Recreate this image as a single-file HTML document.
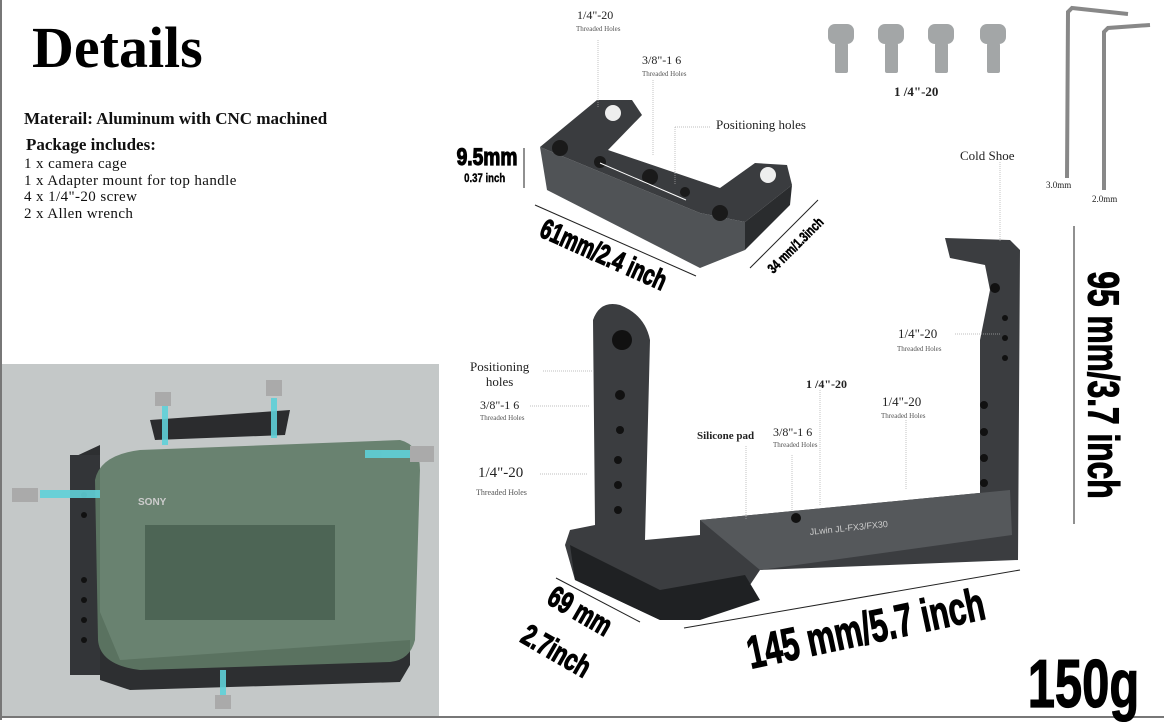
<!DOCTYPE html>
<html><head><meta charset="utf-8"><style>
body{margin:0;width:1164px;height:720px;background:#fff;position:relative;overflow:hidden;font-family:"Liberation Serif",serif}
.a{position:absolute;white-space:nowrap}
.s{font-family:"Liberation Serif",serif;font-size:13px;color:#222}
.t{font-family:"Liberation Serif",serif;font-size:7px;color:#555}
.d{position:absolute;white-space:nowrap;width:0;height:0;display:flex;align-items:center;justify-content:center}
.d span{font-family:"Liberation Sans",sans-serif;font-weight:bold;color:#000;-webkit-text-stroke:1.2px #000;display:block;flex:none}
</style></head><body>
<div style="position:absolute;left:0;top:0;width:2px;height:720px;background:#777"></div>
<div style="position:absolute;left:0;top:716px;width:1164px;height:2px;background:#777"></div>
<div class="a" style="left:32px;top:14px;font-size:58px;font-weight:bold;">Details</div>
<div class="a" style="left:24px;top:109px;font-size:17px;font-weight:bold;line-height:20px;color:#111">Materail: Aluminum with CNC machined</div>
<div class="a" style="left:26px;top:135px;font-size:17px;font-weight:bold;color:#111">Package includes:</div>
<div class="a" style="left:24px;top:156px;font-size:15px;line-height:16.5px;letter-spacing:.4px;color:#111">1 x camera cage<br>1 x Adapter mount for top handle<br>4 x 1/4"-20 screw<br>2 x Allen wrench</div>

<svg style="position:absolute;left:0;top:0" width="1164" height="720">
<rect x="2" y="364" width="437" height="352" fill="#c4c8c8"/>
<!-- camera & cage left -->
<path d="M72 458 L100 445 L100 680 L130 690 L400 682 L410 665 L410 640 L120 660 L95 600 Z" fill="#2d2f31"/>
<rect x="70" y="455" width="30" height="220" fill="#333538"/>
<g fill="#111"><circle cx="84" cy="495" r="3"/><circle cx="84" cy="515" r="3"/><circle cx="84" cy="580" r="3"/><circle cx="84" cy="600" r="3"/><circle cx="84" cy="620" r="3"/><circle cx="84" cy="640" r="3"/></g>
<path d="M95 480 Q100 455 140 450 L400 440 Q420 445 420 470 L415 640 Q410 660 390 662 L140 670 Q100 665 98 640 Z" fill="#5f7a66" opacity=".9"/>
<rect x="145" y="525" width="190" height="95" fill="#4d6555"/>
<path d="M150 420 L290 410 L285 435 L155 440 Z" fill="#2b2c2e"/>
<g fill="#5fd0d8" opacity=".9"><rect x="162" y="405" width="6" height="40"/><rect x="271" y="398" width="6" height="40"/><rect x="40" y="490" width="60" height="8"/><rect x="365" y="450" width="52" height="8"/><rect x="220" y="670" width="6" height="28"/></g>
<g fill="#aaa"><rect x="155" y="392" width="16" height="14"/><rect x="266" y="380" width="16" height="16"/><rect x="12" y="488" width="26" height="14"/><rect x="410" y="446" width="24" height="16"/><rect x="215" y="695" width="16" height="14"/></g>
<text x="138" y="505" font-family="Liberation Sans" font-size="10" font-weight="bold" fill="#ccc">SONY</text>
<!-- top handle -->
<path d="M540 147 L700 213 L745 222 L745 250 L700 268 L547 190 Z" fill="#505356"/>
<path d="M540 147 L597 100 L632 100 L642 115 L608 150 L720 188 L755 163 L787 165 L792 185 L745 222 L700 213 Z" fill="#3a3c3f"/>
<path d="M745 222 L792 185 L790 205 L745 250 Z" fill="#2a2c2e"/>
<g fill="#eee"><circle cx="613" cy="113" r="8"/><circle cx="768" cy="175" r="8"/></g>
<g fill="#1a1a1a"><circle cx="560" cy="148" r="8"/><circle cx="720" cy="213" r="8"/><circle cx="650" cy="177" r="8"/><circle cx="600" cy="162" r="6"/><circle cx="685" cy="192" r="5"/></g>
<line x1="600" y1="163" x2="686" y2="200" stroke="#fff" stroke-width="1"/>
<!-- screws -->
<g fill="#a3a6a7"><rect x="828" y="24" width="26" height="20" rx="7"/><rect x="835" y="43" width="13" height="30" rx="2"/><rect x="878" y="24" width="26" height="20" rx="7"/><rect x="885" y="43" width="13" height="30" rx="2"/><rect x="928" y="24" width="26" height="20" rx="7"/><rect x="935" y="43" width="13" height="30" rx="2"/><rect x="980" y="24" width="26" height="20" rx="7"/><rect x="987" y="43" width="13" height="30" rx="2"/></g>
<path d="M1128 14 L1072 8 L1068 12 L1067 178" fill="none" stroke="#888" stroke-width="4"/>
<path d="M1150 25 L1108 28 L1104 32 L1104 190" fill="none" stroke="#888" stroke-width="4"/>
<!-- cage right -->
<path d="M593 320 Q600 300 620 305 Q645 315 650 340 L645 540 L700 535 L700 520 L1010 490 L1012 535 L1000 545 L980 550 L980 400 L980 340 L990 290 L985 265 L950 258 L945 238 L1010 240 L1020 250 L1018 560 L760 570 L740 600 L660 620 L575 580 L565 545 L570 530 L595 525 Z" fill="#3b3d40"/>
<path d="M570 545 L660 590 L745 575 L760 600 L700 620 L660 620 L575 580 Z" fill="#1f2123"/>
<path d="M700 520 L1010 490 L1012 535 L760 570 Z" fill="#55585b"/>
<g fill="#111"><circle cx="622" cy="340" r="10"/><circle cx="620" cy="395" r="5"/><circle cx="620" cy="430" r="4"/><circle cx="618" cy="460" r="4"/><circle cx="618" cy="485" r="4"/><circle cx="618" cy="510" r="4"/><circle cx="995" cy="288" r="5"/><circle cx="1005" cy="318" r="3"/><circle cx="1005" cy="338" r="3"/><circle cx="1005" cy="358" r="3"/><circle cx="984" cy="405" r="4"/><circle cx="984" cy="432" r="4"/><circle cx="984" cy="458" r="4"/><circle cx="984" cy="483" r="4"/><circle cx="796" cy="518" r="5"/></g>
<text x="810" y="535" font-family="Liberation Sans" font-size="9" fill="#ccc" transform="rotate(-6 810 535)">JLwin JL-FX3/FX30</text>
<!-- leader lines -->
<g stroke="#aaa" stroke-width=".7" stroke-dasharray="1 1" fill="none">
<line x1="598" y1="40" x2="598" y2="108"/><line x1="653" y1="80" x2="653" y2="155"/><line x1="675" y1="127" x2="710" y2="127"/><line x1="675" y1="127" x2="675" y2="185"/>
<line x1="1000" y1="162" x2="1000" y2="242"/><line x1="955" y1="334" x2="1000" y2="334"/>
<line x1="543" y1="371" x2="593" y2="371"/><line x1="530" y1="406" x2="590" y2="406"/><line x1="540" y1="474" x2="588" y2="474"/>
<line x1="746" y1="446" x2="746" y2="520"/><line x1="792" y1="455" x2="792" y2="510"/><line x1="820" y1="390" x2="820" y2="505"/><line x1="906" y1="420" x2="906" y2="490"/></g>
<g stroke="#222" stroke-width="1"><line x1="535" y1="205" x2="696" y2="276"/><line x1="750" y1="268" x2="818" y2="200"/><line x1="524" y1="148" x2="524" y2="188"/><line x1="556" y1="578" x2="640" y2="622"/><line x1="684" y1="628" x2="1020" y2="570"/><line x1="1074" y1="226" x2="1074" y2="524"/></g>
</svg>

<div class="a s" style="left:577px;top:8px;font-size:12px">1/4"-20</div><div class="a t" style="left:576px;top:25px">Threaded Holes</div>
<div class="a s" style="left:642px;top:53px;font-size:12px">3/8"-1 6</div><div class="a t" style="left:642px;top:70px">Threaded Holes</div>
<div class="a s" style="left:716px;top:117px">Positioning holes</div>
<div class="a s" style="left:894px;top:84px;font-size:13px;font-weight:bold">1 /4"-20</div>
<div class="a s" style="left:960px;top:148px">Cold Shoe</div>
<div class="a t" style="left:1046px;top:180px;font-size:9px;color:#222">3.0mm</div>
<div class="a t" style="left:1092px;top:194px;font-size:9px;color:#222">2.0mm</div>
<div class="a s" style="left:898px;top:326px">1/4"-20</div><div class="a t" style="left:897px;top:345px">Threaded Holes</div>
<div class="a s" style="left:470px;top:359px;line-height:15px;text-align:center">Positioning<br>holes</div>
<div class="a s" style="left:480px;top:398px;font-size:12px">3/8"-1 6</div><div class="a t" style="left:480px;top:414px">Threaded Holes</div>
<div class="a s" style="left:478px;top:465px;font-size:15px">1/4"-20</div><div class="a t" style="left:476px;top:488px;font-size:8px">Threaded Holes</div>
<div class="a s" style="left:806px;top:377px;font-size:12px;font-weight:bold">1 /4"-20</div>
<div class="a s" style="left:882px;top:394px">1/4"-20</div><div class="a t" style="left:881px;top:412px">Threaded Holes</div>
<div class="a s" style="left:697px;top:430px;font-size:11px;font-weight:bold">Silicone pad</div>
<div class="a s" style="left:773px;top:425px;font-size:12px">3/8"-1 6</div><div class="a t" style="left:773px;top:441px">Threaded Holes</div>

<div class="d" style="left:487px;top:158px"><span style="font-size:24px;transform:scaleX(.8)">9.5mm</span></div>
<div class="d" style="left:485px;top:178px"><span style="font-size:12px;transform:scaleX(.8);-webkit-text-stroke:.4px #000">0.37 inch</span></div>
<div class="d" style="left:603px;top:255px"><span style="font-size:28px;transform:rotate(24deg) scaleX(.7)">61mm/2.4 inch</span></div>
<div class="d" style="left:795px;top:245px"><span style="font-size:14px;transform:rotate(-45deg) scaleX(.75);-webkit-text-stroke:.5px #000">34 mm/1.3inch</span></div>
<div class="d" style="left:580px;top:612px"><span style="font-size:30px;transform:rotate(30deg) scaleX(.72)">69 mm</span></div>
<div class="d" style="left:556px;top:652px"><span style="font-size:30px;transform:rotate(30deg) scaleX(.72)">2.7inch</span></div>
<div class="d" style="left:866px;top:628px"><span style="font-size:46px;transform:rotate(-12deg) scaleX(.68)">145 mm/5.7 inch</span></div>
<div class="d" style="left:1103px;top:385px"><span style="font-size:44px;transform:rotate(90deg) scaleX(.72)">95 mm/3.7 inch</span></div>
<div class="d" style="left:1083px;top:684px"><span style="font-size:68px;transform:scaleX(.72)">150g</span></div>
</body></html>
